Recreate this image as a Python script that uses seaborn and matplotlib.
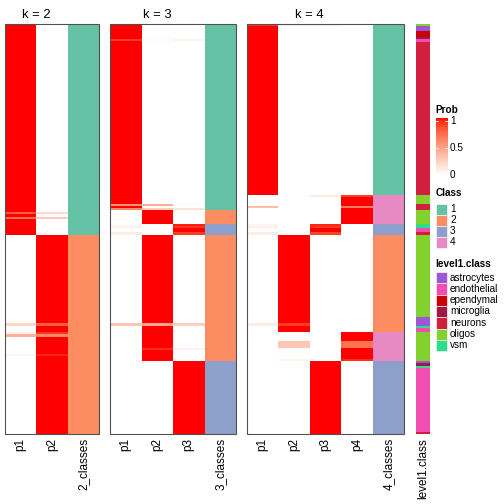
import numpy as np
import pandas as pd
import matplotlib
matplotlib.use("Agg")
import matplotlib.pyplot as plt
import seaborn as sns
from matplotlib.colors import ListedColormap
from matplotlib.patches import Rectangle

# ---------------- data (row segments, top to bottom) ----------------
seg_len = [2, 5, 6, 2, 2, 1, 153,
           2, 7, 2, 2, 2, 2, 2, 3, 2, 5,
           2, 2, 4, 3,
           82, 6, 3, 2, 4,
           2, 3, 4, 7, 2, 4, 2, 3, 2,
           2, 3, 2, 64, 2]

level1 = ["oligos", "astrocytes", "ependymal", "microglia", "endothelial", "endothelial", "neurons",
          "oligos", "oligos", "neurons", "neurons", "neurons", "oligos", "oligos", "oligos", "oligos", "oligos",
          "vsm", "vsm", "endothelial", "neurons",
          "oligos", "astrocytes", "astrocytes", "vsm", "endothelial",
          "oligos", "oligos", "oligos", "oligos", "oligos", "oligos", "oligos", "oligos", "oligos",
          "astrocytes", "microglia", "vsm", "endothelial", "neurons"]

k2_class = [1] * 21 + [2] * 19
k3_class = [1] * 12 + [2] * 5 + [3] * 4 + [2] * 14 + [3] * 5
k4_class = [1] * 7 + [4] * 10 + [3] * 4 + [2] * 5 + [4] * 9 + [3] * 5

k2_prob = [(1, 0), (1, 0), (1, 0), (1, 0), (1, 0), (1, 0), (1, 0),
           (1, 0), (1, 0), (1, 0), (1, 0), (1, 0), (1, 0), (0.8, 0.2), (1, 0), (0.72, 0.28), (1, 0),
           (1, 0), (1, 0), (1, 0), (1, 0),
           (0, 1), (0, 1), (0.22, 0.78), (0, 1), (0, 1),
           (0.08, 0.92), (0.4, 0.6), (0, 1), (0, 1), (0, 1), (0, 1), (0.05, 0.95), (0, 1), (0, 1),
           (0, 1), (0, 1), (0, 1), (0, 1), (0, 1)]

k3_prob = [(1, 0, 0), (1, 0, 0), (1, 0, 0), (1, 0, 0), (0.9, 0.02, 0.08), (1, 0, 0), (1, 0, 0),
           (1, 0, 0), (1, 0, 0), (0.55, 0.42, 0.03), (1, 0, 0), (0.6, 0.25, 0.15),
           (0, 1, 0), (0, 1, 0), (0, 1, 0), (0, 1, 0), (0, 1, 0),
           (0.03, 0, 0.97), (0.08, 0, 0.92), (0, 0, 1), (0.1, 0, 0.9),
           (0, 1, 0), (0, 1, 0), (0.3, 0.45, 0.25), (0, 1, 0), (0, 1, 0),
           (0, 1, 0), (0, 1, 0), (0, 1, 0), (0, 1, 0), (0, 0.93, 0.07), (0, 1, 0), (0, 1, 0), (0, 1, 0), (0, 1, 0),
           (0, 0, 1), (0, 0, 1), (0, 0, 1), (0, 0, 1), (0, 0, 1)]

k4_prob = [(0.9, 0.05, 0.05, 0), (1, 0, 0, 0), (1, 0, 0, 0), (1, 0, 0, 0), (1, 0, 0, 0), (1, 0, 0, 0), (1, 0, 0, 0),
           (0, 0, 0.1, 0.9), (0, 0, 0, 1), (0, 0, 0, 1), (0.35, 0, 0, 0.65), (0, 0, 0, 1),
           (0, 0, 0, 1), (0, 0, 0, 1), (0, 0, 0, 1), (0, 0, 0, 1), (0, 0, 0, 1),
           (0.05, 0, 0.95, 0), (0.08, 0, 0.92, 0), (0, 0, 1, 0), (0.1, 0, 0.88, 0.02),
           (0, 1, 0, 0), (0, 1, 0, 0), (0.1, 0.9, 0, 0), (0, 1, 0, 0), (0, 1, 0, 0),
           (0, 0, 0, 1), (0, 0, 0, 1), (0, 0, 0, 1), (0, 0.3, 0, 0.7), (0, 0, 0, 1), (0, 0, 0, 1), (0, 0, 0, 1),
           (0, 0, 0, 1), (0, 0.06, 0, 0.94),
           (0, 0, 1, 0), (0, 0, 1, 0), (0, 0, 1, 0), (0, 0, 1, 0), (0, 0, 1, 0)]

level1_names = ["astrocytes", "endothelial", "ependymal", "microglia", "neurons", "oligos", "vsm"]
level1_colors = ["#9E55D6", "#F24EB2", "#CC0000", "#A0174A", "#D11F3D", "#83D12F", "#2EDD88"]
class_colors = ["#66C2A5", "#FC8D62", "#8DA0CB", "#E78AC3"]


# ---------------- white -> red colour ramp interpolated in LAB ----------------
def srgb_to_lab(rgb):
    rgb = np.asarray(rgb, float)
    lin = np.where(rgb <= 0.04045, rgb / 12.92, ((rgb + 0.055) / 1.055) ** 2.4)
    M = np.array([[0.4124, 0.3576, 0.1805], [0.2126, 0.7152, 0.0722], [0.0193, 0.1192, 0.9505]])
    xyz = M @ lin / np.array([0.95047, 1.0, 1.08883])
    f = np.where(xyz > 0.008856, np.cbrt(xyz), 7.787 * xyz + 16 / 116)
    return np.array([116 * f[1] - 16, 500 * (f[0] - f[1]), 200 * (f[1] - f[2])])


def lab_to_srgb(lab):
    L, a, b = lab
    fy = (L + 16) / 116
    fx = fy + a / 500
    fz = fy - b / 200
    f = np.array([fx, fy, fz])
    t = np.where(f ** 3 > 0.008856, f ** 3, (f - 16 / 116) / 7.787)
    xyz = t * np.array([0.95047, 1.0, 1.08883])
    Minv = np.array([[3.2406, -1.5372, -0.4986], [-0.9689, 1.8758, 0.0415], [0.0557, -0.2040, 1.0570]])
    lin = np.clip(Minv @ xyz, 0, 1)
    rgb = np.where(lin <= 0.0031308, 12.92 * lin, 1.055 * lin ** (1 / 2.4) - 0.055)
    return np.clip(rgb, 0, 1)


lab_w = srgb_to_lab([1, 1, 1])
lab_r = srgb_to_lab([1, 0, 0])
ramp = [lab_to_srgb(lab_w + (lab_r - lab_w) * t) for t in np.linspace(0, 1, 256)]
prob_cmap = ListedColormap(ramp)

# ---------------- expand segments to rows ----------------
reps = np.array(seg_len)
n_rows = int(reps.sum())

plt.rcParams["font.family"] = ["Liberation Sans", "DejaVu Sans"]
fig = plt.figure(figsize=(7, 7), dpi=72)
W = H = 504.0


def px_axes(x0, y0, x1, y1):
    return fig.add_axes([x0 / W, 1 - y1 / H, (x1 - x0) / W, (y1 - y0) / H])


panels = [(2, k2_prob, k2_class, 5, 99), (3, k3_prob, k3_class, 110, 236), (4, k4_prob, k4_class, 247, 404)]
top, bottom = 24, 434
lab_fs = 11.8
for k, probs, classes, x0, x1 in panels:
    ax = px_axes(x0, top, x1, bottom)
    cols = [f"p{i + 1}" for i in range(k)] + [f"{k}_classes"]
    pm = np.repeat(np.array(probs, float), reps, axis=0)
    cm = np.repeat(np.array(classes, float), reps)
    prob_df = pd.DataFrame(np.column_stack([pm, np.full(n_rows, np.nan)]), columns=cols)
    cls_df = pd.DataFrame(np.column_stack([np.full((n_rows, k), np.nan), cm]), columns=cols)
    sns.heatmap(prob_df, ax=ax, cmap=prob_cmap, vmin=0, vmax=1, cbar=False,
                xticklabels=True, yticklabels=False, rasterized=True)
    sns.heatmap(cls_df, ax=ax, cmap=ListedColormap(class_colors[:k]), vmin=0.5, vmax=k + 0.5,
                cbar=False, xticklabels=True, yticklabels=False, rasterized=True)
    ax.set_xticklabels(cols, rotation=90, fontsize=lab_fs, va="top")
    ax.tick_params(axis="x", length=0, pad=4)
    ax.set_ylabel("")
    ax.add_patch(Rectangle((0, 0), 1, 1, transform=ax.transAxes, fill=False,
                           ec="#505050", lw=1.1, clip_on=False))
    # title centred over the probability columns
    ax.text(k / 2, -9, f"k = {k}", ha="center", va="center", fontsize=13,
            transform=ax.transData, clip_on=False)

# annotation bar
ax_a = px_axes(416, top, 430, bottom)
codes = np.repeat(np.array([level1_names.index(v) for v in level1], float), reps)
ann_df = pd.DataFrame({"level1.class": codes})
sns.heatmap(ann_df, ax=ax_a, cmap=ListedColormap(level1_colors), vmin=-0.5, vmax=6.5,
            cbar=False, xticklabels=True, yticklabels=False, rasterized=True)
ax_a.set_xticklabels(["level1.class"], rotation=90, fontsize=lab_fs, va="top")
ax_a.tick_params(axis="x", length=0, pad=4)

# ---------------- legends (pixel coordinates) ----------------
lg = fig.add_axes([0, 0, 1, 1])
lg.set_xlim(0, W)
lg.set_ylim(H, 0)
lg.axis("off")
lx, sw = 435.5, 11.5
tx = 450

lg.text(lx, 110, "Prob", fontsize=10, fontweight="bold", va="center", ha="left")
grad = np.linspace(1, 0, 200).reshape(-1, 1)
lg.imshow(grad, cmap=prob_cmap, vmin=0, vmax=1, extent=[lx, lx + sw, 175, 118], aspect="auto")
for yv, lab in [(121, "1"), (148, "0.5"), (175, "0")]:
    lg.text(tx, yv, lab, fontsize=10, va="center", ha="left")
    if lab != "0":
        lg.plot([lx, lx + 2.5], [yv, yv], color="white", lw=0.8)
        lg.plot([lx + sw - 2.5, lx + sw], [yv, yv], color="white", lw=0.8)

lg.text(lx, 193, "Class", fontsize=10, fontweight="bold", va="center", ha="left")
for i in range(4):
    y0 = 203.5 + i * 11
    lg.add_patch(Rectangle((lx, y0), sw, 11, fc=class_colors[i], ec="white", lw=0.6))
    lg.text(tx, y0 + 5.5, str(i + 1), fontsize=10, va="center", ha="left")

lg.text(lx, 264, "level1.class", fontsize=10, fontweight="bold", va="center", ha="left")
for i, (nm, c) in enumerate(zip(level1_names, level1_colors)):
    y0 = 272 + i * 11.3
    lg.add_patch(Rectangle((lx, y0), sw, 11.3, fc=c, ec="white", lw=0.6))
    lg.text(tx, y0 + 5.6, nm, fontsize=10, va="center", ha="left")

fig.savefig("out.png", dpi=72)
